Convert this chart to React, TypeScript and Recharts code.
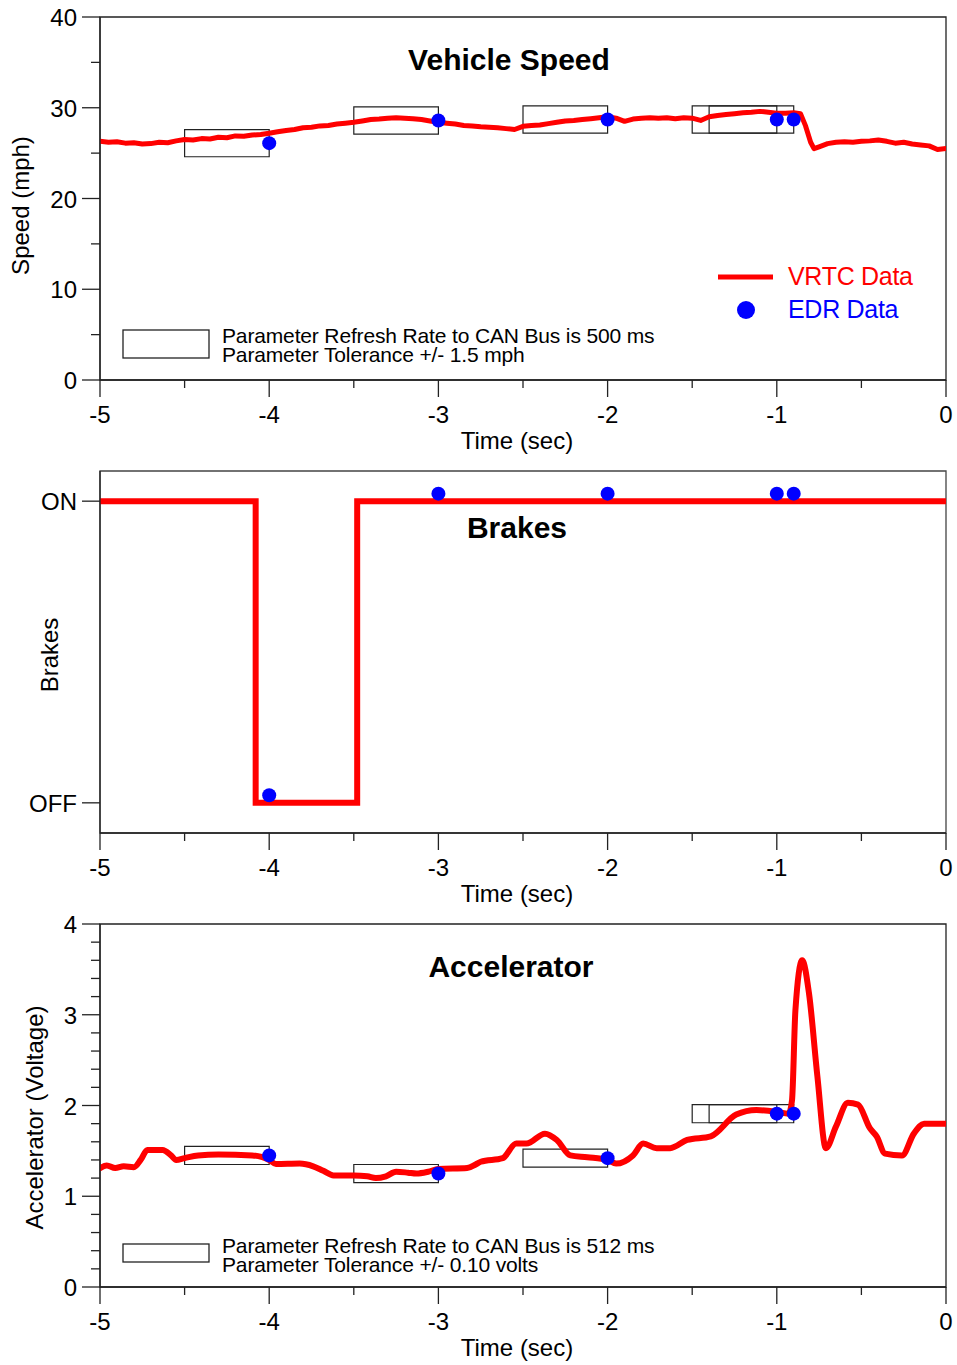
import React from 'react';
import { ComposedChart, Line, Scatter, XAxis, YAxis, ReferenceArea, Legend } from 'recharts';

const FONT = '"Liberation Sans", Arial, Helvetica, sans-serif';
const RED = '#ff0000';
const BLUE = '#0000ff';
const INK = '#222222';

// ---------- shared time axis ----------
const timeTicks = [-5, -4.5, -4, -3.5, -3, -2.5, -2, -1.5, -1, -0.5, 0];
const edrTimes = [-4, -3, -2, -1, -0.9];
const refreshWindow = 0.5; // seconds covered by each tolerance box

// ---------- Vehicle Speed ----------
const speedTicks = [0, 5, 10, 15, 20, 25, 30, 35, 40];
const speedVRTC: [number, number][] = [
  [-5.0, 26.3], [-4.95, 26.2], [-4.9, 26.25], [-4.85, 26.1], [-4.8, 26.15], [-4.75, 26.0],
  [-4.7, 26.05], [-4.65, 26.2], [-4.6, 26.15], [-4.55, 26.35], [-4.5, 26.5], [-4.45, 26.45],
  [-4.4, 26.6], [-4.35, 26.55], [-4.3, 26.75], [-4.25, 26.7], [-4.2, 26.9], [-4.15, 26.85],
  [-4.1, 27.0], [-4.05, 27.05], [-4.0, 27.2], [-3.95, 27.35], [-3.9, 27.5], [-3.85, 27.6],
  [-3.8, 27.8], [-3.75, 27.85], [-3.7, 28.0], [-3.65, 28.05], [-3.6, 28.2], [-3.55, 28.3],
  [-3.5, 28.4], [-3.45, 28.55], [-3.4, 28.7], [-3.35, 28.75], [-3.3, 28.85], [-3.25, 28.9],
  [-3.2, 28.85], [-3.15, 28.8], [-3.1, 28.7], [-3.05, 28.55], [-3.0, 28.4], [-2.95, 28.3],
  [-2.9, 28.2], [-2.85, 28.05], [-2.8, 28.0], [-2.75, 27.9], [-2.7, 27.85], [-2.65, 27.8],
  [-2.6, 27.7], [-2.55, 27.6], [-2.5, 27.95], [-2.45, 28.05], [-2.4, 28.1], [-2.35, 28.25],
  [-2.3, 28.4], [-2.25, 28.55], [-2.2, 28.6], [-2.15, 28.7], [-2.1, 28.8], [-2.05, 28.9],
  [-2.0, 29.0], [-1.95, 28.85], [-1.9, 28.5], [-1.85, 28.75], [-1.8, 28.85], [-1.75, 28.9],
  [-1.7, 28.85], [-1.65, 28.9], [-1.6, 28.8], [-1.55, 28.9], [-1.5, 28.85], [-1.45, 28.6],
  [-1.4, 29.0], [-1.35, 29.15], [-1.3, 29.25], [-1.25, 29.35], [-1.2, 29.45], [-1.15, 29.5],
  [-1.1, 29.6], [-1.05, 29.5], [-1.0, 29.4], [-0.95, 29.4], [-0.9, 29.45], [-0.86, 29.35],
  [-0.83, 28.0], [-0.8, 26.2], [-0.78, 25.5], [-0.75, 25.7], [-0.7, 26.05], [-0.65, 26.2],
  [-0.6, 26.25], [-0.55, 26.2], [-0.5, 26.3], [-0.45, 26.35], [-0.4, 26.45], [-0.35, 26.3],
  [-0.3, 26.1], [-0.25, 26.2], [-0.2, 26.0], [-0.15, 25.9], [-0.1, 25.8], [-0.05, 25.4],
  [0.0, 25.5],
];
const speedEDR = [26.1, 28.6, 28.7, 28.7, 28.7];
const speedTolerance = 1.5;

// ---------- Brakes ----------
const brakeTicks = [0, 1];
const brakeTickLabels = ['OFF', 'ON'];
const brakeVRTC: [number, number][] = [
  [-5.0, 1], [-4.08, 0], [-3.48, 1], [0.0, 1],
];
const brakeEDR = [0.025, 1.025, 1.025, 1.025, 1.025];

// ---------- Accelerator ----------
const accelTicks = [0, 0.2, 0.4, 0.6, 0.8, 1, 1.2, 1.4, 1.6, 1.8, 2, 2.2, 2.4, 2.6, 2.8, 3, 3.2, 3.4, 3.6, 3.8, 4];
const accelVRTC: [number, number][] = [
  [-5.0, 1.31], [-4.96, 1.34], [-4.91, 1.31], [-4.86, 1.33], [-4.8, 1.32], [-4.76, 1.4],
  [-4.72, 1.51], [-4.63, 1.51], [-4.58, 1.45], [-4.55, 1.4], [-4.5, 1.42], [-4.42, 1.45],
  [-4.3, 1.46], [-4.1, 1.45], [-4.04, 1.43], [-4.0, 1.4], [-3.96, 1.355], [-3.82, 1.36],
  [-3.74, 1.33], [-3.68, 1.28], [-3.62, 1.23], [-3.5, 1.23], [-3.42, 1.22], [-3.37, 1.2],
  [-3.31, 1.22], [-3.25, 1.27], [-3.18, 1.26], [-3.13, 1.25], [-3.06, 1.27], [-3.0, 1.3],
  [-2.83, 1.31], [-2.78, 1.35], [-2.75, 1.38], [-2.62, 1.42], [-2.54, 1.58], [-2.48, 1.58],
  [-2.37, 1.69], [-2.3, 1.62], [-2.22, 1.45], [-2.12, 1.43], [-2.0, 1.4], [-1.95, 1.36],
  [-1.85, 1.45], [-1.79, 1.58], [-1.71, 1.53], [-1.63, 1.53], [-1.53, 1.62], [-1.39, 1.66],
  [-1.24, 1.9], [-1.12, 1.95], [-1.0, 1.93], [-0.93, 1.91], [-0.91, 2.06], [-0.89, 3.05],
  [-0.85, 3.6], [-0.81, 3.24], [-0.76, 2.32], [-0.71, 1.53], [-0.65, 1.77], [-0.58, 2.03],
  [-0.52, 2.01], [-0.45, 1.75], [-0.41, 1.66], [-0.36, 1.47], [-0.26, 1.45], [-0.19, 1.69],
  [-0.13, 1.8], [0.0, 1.8],
];
const accelEDR = [1.45, 1.25, 1.42, 1.91, 1.91];
const accelTolerance = 0.1;

// ---------- helpers ----------
const toRows = (pairs: [number, number][]) => pairs.map(([t, v]) => ({ t, v }));
const edrRows = (vals: number[]) => vals.map((v, i) => ({ t: edrTimes[i], v }));
const isMajor = (v: number) => Math.abs(v - Math.round(v)) < 1e-6;

const XTick = (props: any) => {
  const { x, y, payload } = props;
  const v = payload.value;
  const major = isMajor(v);
  return (
    <g>
      <line x1={x} x2={x} y1={y} y2={y + (major ? 17 : 8)} stroke={INK} strokeWidth={1.3} />
      {major && (
        <text x={x} y={y + 43} textAnchor="middle" fontSize={24} fontFamily={FONT} fill="#000">
          {String(Math.round(v))}
        </text>
      )}
    </g>
  );
};

const makeYTick = (labelFor: (v: number) => string | null, majorFn: (v: number) => boolean) => (props: any) => {
  const { x, y, payload } = props;
  const v = payload.value;
  const major = majorFn(v);
  const label = major ? labelFor(v) : null;
  return (
    <g>
      <line x1={x - (major ? 18 : 9)} x2={x} y1={y} y2={y} stroke={INK} strokeWidth={1.3} />
      {label !== null && (
        <text x={x - 23} y={y + 9} textAnchor="end" fontSize={24} fontFamily={FONT} fill="#000">
          {label}
        </text>
      )}
    </g>
  );
};

const speedTick = makeYTick((v) => String(v), (v) => Math.round(v) % 10 === 0);
const brakeTick = makeYTick((v) => brakeTickLabels[brakeTicks.indexOf(v)], () => true);
const accelTick = makeYTick((v) => String(Math.round(v)), isMajor);

const timeLabel = (props: any) => {
  const vb = props.viewBox || {};
  const cx = (vb.x ?? 100) + (vb.width ?? 846) / 2 - 6;
  const y = (vb.y ?? 0) + 69;
  return (
    <text x={cx} y={y} textAnchor="middle" fontSize={24} fontFamily={FONT} fill="#000">
      Time (sec)
    </text>
  );
};

const yLabel = (text: string, bx: number, dy: number) => (props: any) => {
  const vb = props.viewBox || {};
  const cy = (vb.y ?? 0) + (vb.height ?? 0) / 2 + dy;
  return (
    <text
      x={bx}
      y={cy}
      transform={`rotate(-90, ${bx}, ${cy})`}
      textAnchor="middle"
      fontSize={24}
      fontFamily={FONT}
      fill="#000"
    >
      {text}
    </text>
  );
};

const Dot = (props: any) => <circle cx={props.cx} cy={props.cy} r={7} fill={BLUE} />;

const W = 957;
const PLOT_LEFT = 100;
const PLOT_RIGHT = 946;

const Title = ({ x, y, text }: { x: number; y: number; text: string }) => (
  <text x={x} y={y} textAnchor="middle" fontSize={30} fontWeight="bold" fontFamily={FONT} fill="#000">
    {text}
  </text>
);

const ToleranceKey = ({ top, h, note }: { top: number; h: number; note: string[] }) => (
  <g>
    <rect x={123} y={top} width={86} height={h} fill="none" stroke={INK} strokeWidth={1.3} />
    <text x={222} y={343} fontSize={21} letterSpacing={-0.15} fontFamily={FONT} fill="#000">
      {note[0]}
    </text>
    <text x={222} y={362} fontSize={21} letterSpacing={-0.15} fontFamily={FONT} fill="#000">
      {note[1]}
    </text>
  </g>
);

const legendWrap = (h: number) => ({
  position: 'absolute' as const,
  left: 0,
  top: 0,
  width: W,
  height: h,
  pointerEvents: 'none' as const,
});

const SpeedPanel = () => {
  const H = 460;
  return (
    <ComposedChart width={W} height={H} margin={{ top: 17, right: W - PLOT_RIGHT, bottom: 0, left: 0 }}>
      <XAxis
        dataKey="t"
        type="number"
        domain={[-5, 0]}
        ticks={timeTicks}
        interval={0}
        allowDataOverflow
        height={80}
        tickSize={0}
        tickMargin={0}
        tick={XTick}
        tickLine={false}
        axisLine={{ stroke: INK, strokeWidth: 1.3 }}
        label={{ content: timeLabel }}
      />
      <YAxis
        type="number"
        domain={[0, 40]}
        ticks={speedTicks}
        interval={0}
        allowDataOverflow
        width={PLOT_LEFT}
        tickSize={0}
        tickMargin={0}
        tick={speedTick}
        tickLine={false}
        axisLine={{ stroke: INK, strokeWidth: 1.3 }}
        label={{ content: yLabel('Speed (mph)', 29, 7) }}
      />
      <ReferenceArea x1={-5} x2={0} y1={0} y2={40} fill="none" fillOpacity={0} stroke={INK} strokeWidth={1.3} />
      {speedEDR.map((v, i) => (
        <ReferenceArea
          key={'sb' + i}
          x1={edrTimes[i] - refreshWindow}
          x2={edrTimes[i]}
          y1={v - speedTolerance}
          y2={v + speedTolerance}
          fill="none"
          fillOpacity={0}
          stroke={INK}
          strokeWidth={1.2}
        />
      ))}
      <Line
        data={toRows(speedVRTC)}
        dataKey="v"
        type="linear"
        stroke={RED}
        strokeWidth={5}
        strokeLinejoin="round"
        strokeLinecap="round"
        dot={false}
        activeDot={false}
        isAnimationActive={false}
        name="VRTC Data"
      />
      <Scatter data={edrRows(speedEDR)} dataKey="v" shape={Dot} isAnimationActive={false} name="EDR Data" />
      <Legend
        layout="vertical"
        align="center"
        verticalAlign="middle"
        wrapperStyle={legendWrap(H)}
        content={() => (
          <svg width={W} height={H} style={{ position: 'absolute', left: 0, top: 0 }}>
            <Title x={509} y={70} text="Vehicle Speed" />
            <line x1={718} x2={773} y1={277} y2={277} stroke={RED} strokeWidth={5} />
            <text x={788} y={285} fontSize={25} letterSpacing={-0.3} fontFamily={FONT} fill={RED}>
              VRTC Data
            </text>
            <circle cx={746} cy={310} r={9} fill={BLUE} />
            <text x={788} y={318} fontSize={25} letterSpacing={-0.3} fontFamily={FONT} fill={BLUE}>
              EDR Data
            </text>
            <ToleranceKey
              top={330}
              h={28}
              note={['Parameter Refresh Rate to CAN Bus is 500 ms', 'Parameter Tolerance +/- 1.5 mph']}
            />
          </svg>
        )}
      />
    </ComposedChart>
  );
};

const BrakePanel = () => {
  const H = 450;
  return (
    <ComposedChart width={W} height={H} margin={{ top: 11, right: W - PLOT_RIGHT, bottom: 0, left: 0 }}>
      <XAxis
        dataKey="t"
        type="number"
        domain={[-5, 0]}
        ticks={timeTicks}
        interval={0}
        allowDataOverflow
        height={77}
        tickSize={0}
        tickMargin={0}
        tick={XTick}
        tickLine={false}
        axisLine={{ stroke: INK, strokeWidth: 1.3 }}
        label={{ content: timeLabel }}
      />
      <YAxis
        type="number"
        domain={[-0.1, 1.1]}
        ticks={brakeTicks}
        interval={0}
        allowDataOverflow
        width={PLOT_LEFT}
        tickSize={0}
        tickMargin={0}
        tick={brakeTick}
        tickLine={false}
        axisLine={{ stroke: INK, strokeWidth: 1.3 }}
        label={{ content: yLabel('Brakes', 58, 3) }}
      />
      <ReferenceArea x1={-5} x2={0} y1={-0.1} y2={1.1} fill="none" fillOpacity={0} stroke="#444" strokeWidth={1.3} />
      <Line
        data={toRows(brakeVRTC)}
        dataKey="v"
        type="stepAfter"
        stroke={RED}
        strokeWidth={6}
        strokeLinecap="square"
        dot={false}
        activeDot={false}
        isAnimationActive={false}
        name="VRTC Data"
      />
      <Scatter data={edrRows(brakeEDR)} dataKey="v" shape={Dot} isAnimationActive={false} name="EDR Data" />
      <Legend
        layout="vertical"
        align="center"
        verticalAlign="middle"
        wrapperStyle={legendWrap(H)}
        content={() => (
          <svg width={W} height={H} style={{ position: 'absolute', left: 0, top: 0 }}>
            <Title x={517} y={78} text="Brakes" />
          </svg>
        )}
      />
    </ComposedChart>
  );
};

const AccelPanel = () => {
  const H = 455;
  return (
    <ComposedChart width={W} height={H} margin={{ top: 14, right: W - PLOT_RIGHT, bottom: 0, left: 0 }}>
      <XAxis
        dataKey="t"
        type="number"
        domain={[-5, 0]}
        ticks={timeTicks}
        interval={0}
        allowDataOverflow
        height={78}
        tickSize={0}
        tickMargin={0}
        tick={XTick}
        tickLine={false}
        axisLine={{ stroke: INK, strokeWidth: 1.3 }}
        label={{ content: timeLabel }}
      />
      <YAxis
        type="number"
        domain={[0, 4]}
        ticks={accelTicks}
        interval={0}
        allowDataOverflow
        width={PLOT_LEFT}
        tickSize={0}
        tickMargin={0}
        tick={accelTick}
        tickLine={false}
        axisLine={{ stroke: INK, strokeWidth: 1.3 }}
        label={{ content: yLabel('Accelerator (Voltage)', 43, 12) }}
      />
      <ReferenceArea x1={-5} x2={0} y1={0} y2={4} fill="none" fillOpacity={0} stroke={INK} strokeWidth={1.3} />
      {accelEDR.map((v, i) => (
        <ReferenceArea
          key={'ab' + i}
          x1={edrTimes[i] - refreshWindow}
          x2={edrTimes[i]}
          y1={v - accelTolerance}
          y2={v + accelTolerance}
          fill="none"
          fillOpacity={0}
          stroke={INK}
          strokeWidth={1.2}
        />
      ))}
      <Line
        data={toRows(accelVRTC)}
        dataKey="v"
        type="monotone"
        stroke={RED}
        strokeWidth={6}
        strokeLinejoin="round"
        strokeLinecap="round"
        dot={false}
        activeDot={false}
        isAnimationActive={false}
        name="VRTC Data"
      />
      <Scatter data={edrRows(accelEDR)} dataKey="v" shape={Dot} isAnimationActive={false} name="EDR Data" />
      <Legend
        layout="vertical"
        align="center"
        verticalAlign="middle"
        wrapperStyle={legendWrap(H)}
        content={() => (
          <svg width={W} height={H} style={{ position: 'absolute', left: 0, top: 0 }}>
            <Title x={511} y={67} text="Accelerator" />
            <ToleranceKey
              top={334}
              h={18}
              note={['Parameter Refresh Rate to CAN Bus is 512 ms', 'Parameter Tolerance +/- 0.10 volts']}
            />
          </svg>
        )}
      />
    </ComposedChart>
  );
};

export default function App() {
  return (
    <div
      style={{
        position: 'absolute',
        left: 0,
        top: 0,
        width: W,
        height: 1365,
        background: '#fff',
        fontFamily: FONT,
      }}
    >
      <div style={{ position: 'absolute', left: 0, top: 0 }}>
        <SpeedPanel />
      </div>
      <div style={{ position: 'absolute', left: 0, top: 460 }}>
        <BrakePanel />
      </div>
      <div style={{ position: 'absolute', left: 0, top: 910 }}>
        <AccelPanel />
      </div>
    </div>
  );
}
